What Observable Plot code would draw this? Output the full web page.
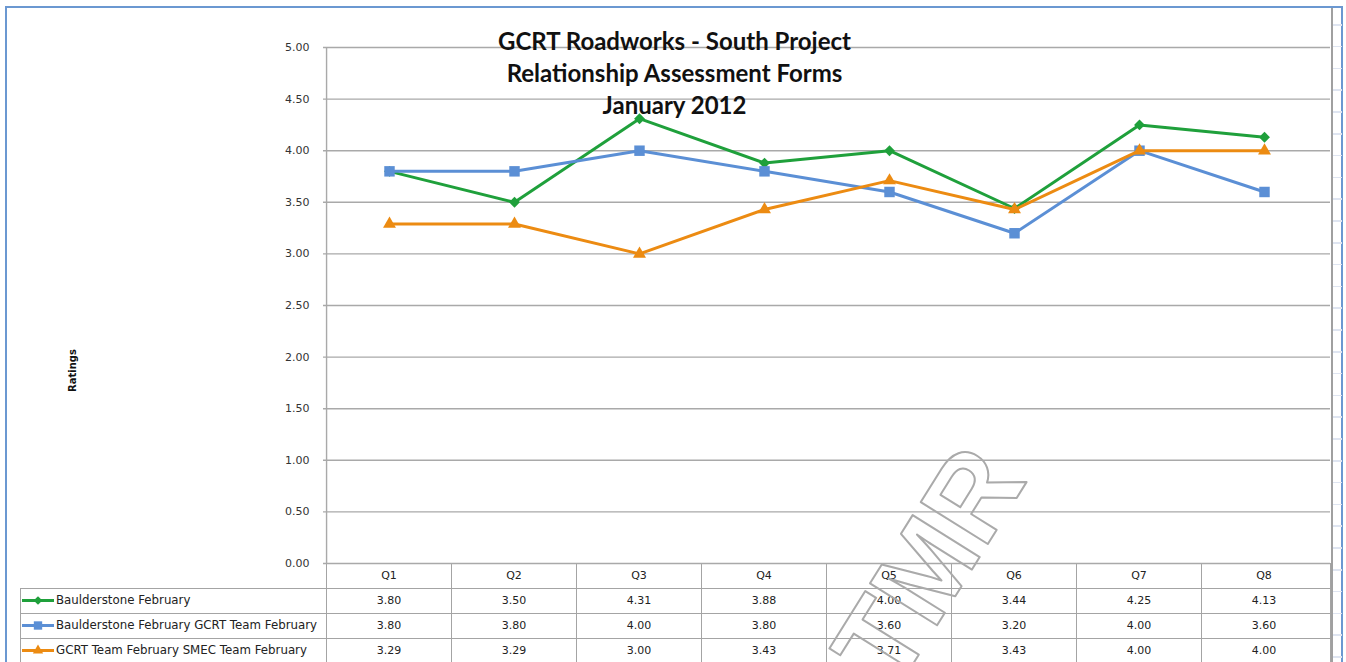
<!DOCTYPE html>
<html><head><meta charset="utf-8">
<script src="https://cdn.jsdelivr.net/npm/d3@7"></script>
<script src="https://cdn.jsdelivr.net/npm/@observablehq/plot@0.6"></script>
<style>
body{margin:0;background:#fff;}
#wrap{position:relative;width:1346px;height:662px;overflow:hidden;font-family:"DejaVu Sans",sans-serif;font-size:11px;color:#222;}
#wrap svg{position:absolute;left:0;top:0;}
.abs{position:absolute;}
.cell{position:absolute;text-align:center;line-height:25px;height:25px;white-space:nowrap;}
</style></head><body><div id="wrap"></div>
<script>
// ---- data ----
const categories = ["Q1","Q2","Q3","Q4","Q5","Q6","Q7","Q8"];
const seriesNames = ["Baulderstone February","Baulderstone February GCRT Team February","GCRT Team February SMEC Team February"];
const baulderstone = [3.80,3.50,4.31,3.88,4.00,3.44,4.25,4.13];
const baulderstoneGcrt = [3.80,3.80,4.00,3.80,3.60,3.20,4.00,3.60];
const gcrtSmec = [3.29,3.29,3.00,3.43,3.71,3.43,4.00,4.00];
const yTicks = [0,0.5,1,1.5,2,2.5,3,3.5,4,4.5,5];
const titleLines = ["GCRT Roadworks - South Project","Relationship Assessment Forms","January 2012"];
const yLabel = "Ratings";
const watermark = "DTMR";

// ---- styles ----
const colors = ["#1fa03b","#5b8fd5","#ec8b12"];
const symbols = ["diamond2","square","triangle"];
const radii = [4.9,5.9,4.8];
const gridColor = "#a9a9a9";

const seriesValues = [baulderstone, baulderstoneGcrt, gcrtSmec];
const rows = seriesNames.flatMap((s,i)=>categories.map((q,j)=>({series:s, idx:i, q, v:seriesValues[i][j]})));

const W=1346,H=662,ML=323,MR=16,MT=47,MB=99;
const step=(W-ML-MR)/categories.length;
const midX=(ML+(W-MR))/2;
const fmt=d3.format(".2f");

const marks=[
  Plot.gridY(yTicks,{stroke:gridColor,strokeOpacity:1,strokeWidth:1.4}),
  Plot.axisY(yTicks,{tickSize:0,tickPadding:14,tickFormat:fmt,label:null,fill:"#333",fontSize:11}),
  Plot.ruleX([categories[0]],{dx:-step/2,stroke:gridColor,strokeWidth:1.4}),
  Plot.text([watermark],{frameAnchor:"bottom",dx:908-midX,dy:38,rotate:-58,fontSize:115,fontWeight:"bold",fontFamily:"Liberation Sans",fill:"none",stroke:"#aaaaaa",strokeWidth:2,textAnchor:"middle",lineAnchor:"middle"}),
];
seriesNames.forEach((s,i)=>{
  const d=rows.filter(r=>r.idx===i);
  marks.push(Plot.line(d,{x:"q",y:"v",stroke:colors[i],strokeWidth:3}));
  marks.push(Plot.dot(d,{x:"q",y:"v",fill:colors[i],symbol:symbols[i],r:radii[i],stroke:"none"}));
});
marks.push(Plot.text([titleLines.join("\n")],{frameAnchor:"top",dx:674-midX,dy:-20,fontSize:24,fontWeight:"bold",fontFamily:"Lato",lineHeight:31.8/24,fill:"#111",textAnchor:"middle",lineAnchor:"top"}));
marks.push(Plot.text([yLabel],{frameAnchor:"left",dx:72-ML,dy:65,rotate:-90,fontSize:10,fontWeight:"bold",fill:"#111",textAnchor:"middle",lineAnchor:"middle"}));

const chart=Plot.plot({
  width:W,height:H,marginLeft:ML,marginRight:MR,marginTop:MT,marginBottom:MB,
  style:{fontFamily:"DejaVu Sans",fontSize:"11px",background:"transparent",overflow:"visible"},
  x:{type:"point",domain:categories,padding:0.5,axis:null},
  y:{domain:[0,5],axis:null},
  marks
});

const wrap=document.getElementById("wrap");
function div(css,html){const e=document.createElement("div");e.className="abs";e.style.cssText=css;if(html!=null)e.innerHTML=html;wrap.appendChild(e);return e;}

// outer frame decorations
div(`left:5px;top:6px;width:1338px;height:720px;border:2px solid #6b98d1;box-sizing:border-box;`);
div(`left:1331px;top:8px;width:1.5px;height:660px;background:#a0a0a0;`);
div(`left:1333px;top:8px;width:9px;height:660px;background:repeating-linear-gradient(to bottom,transparent 0,transparent 16px,#dfe5f1 16px,#dfe5f1 17.5px,transparent 17.5px,transparent 21.8px);`);

// data table
const xs=chart.scale("x");
const x1=W-MR, tTop=H-MB, rowH=25, tLeft=20;
const lc="#a4a4a4";
categories.forEach(q=>{
  const cx=xs.apply(q);
  div(`left:${cx-step/2}px;top:${tTop}px;width:1.2px;height:${H-tTop}px;background:${lc};`);
  const c=div(`left:${cx-step/2}px;top:${tTop}px;width:${step}px;`,q); c.className="cell";
});
div(`left:${x1}px;top:${tTop}px;width:1.2px;height:${H-tTop}px;background:${lc};`);
div(`left:${tLeft}px;top:${tTop+rowH}px;width:1.2px;height:${H-tTop}px;background:${lc};`);
for(let r=1;r<=4;r++) div(`left:${tLeft}px;top:${tTop+rowH*r}px;width:${x1-tLeft}px;height:1.2px;background:${lc};`);
seriesNames.forEach((s,i)=>{
  const top=tTop+rowH*(i+1);
  const sym=d3.symbol(d3[{diamond2:"symbolDiamond2",square:"symbolSquare",triangle:"symbolTriangle"}[symbols[i]]], Math.PI*(radii[i]*0.8)**2)();
  div(`left:22px;top:${top}px;width:34px;height:25px;`,`<svg width="34" height="25" style="position:static"><line x1="0" x2="32" y1="12.5" y2="12.5" stroke="${colors[i]}" stroke-width="3"/><path d="${sym}" transform="translate(16,12.5)" fill="${colors[i]}"/></svg>`);
  const l=div(`left:56px;top:${top}px;font-size:11.8px;`,s); l.className="cell"; l.style.textAlign="left";
  categories.forEach((q,j)=>{
    const cx=xs.apply(q);
    const c=div(`left:${cx-step/2}px;top:${top}px;width:${step}px;`,fmt(seriesValues[i][j])); c.className="cell";
  });
});
wrap.appendChild(chart);
</script></body></html>
